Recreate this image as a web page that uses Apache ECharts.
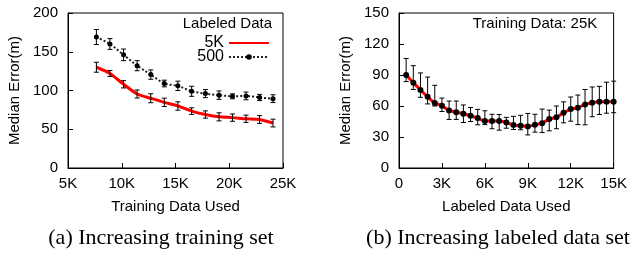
<!DOCTYPE html>
<html lang="en">
<head>
	<meta charset="UTF-8">
	<title>Median error vs training / labeled data</title>
	<style type="text/css">
		html, body { margin: 0; padding: 0; background: #fff; }
		#a { width: 630px; height: 253px; }
	</style>
</head>
<body>
	<div id="a"></div>
	<script type="text/javascript" src="https://cdn.jsdelivr.net/npm/echarts@6/dist/echarts.min.js"></script>
	<script type="text/javascript">
		// (a) training data used (K) vs median error
		var trainX = [7.64, 8.9, 10.17, 11.43, 12.7, 13.96, 15.22, 16.5, 17.78, 19.05, 20.3, 21.56, 22.82, 24.07];
		var err5K = [130, 122, 108, 95.5, 90, 84.7, 80, 73.4, 69, 66, 65, 63.5, 62.6, 58];
		var bar5K = [6.4, 3.9, 4.7, 5.2, 5.8, 5.4, 5.4, 4.3, 4.7, 5.2, 4.7, 4.7, 5, 5];
		var err500 = [169, 160, 146, 132, 120.5, 109, 106, 99, 96, 94, 92.5, 93, 91, 89.5];
		var bar500 = [9.7, 6.9, 7.5, 6.5, 6, 4.3, 6, 6.5, 5.2, 5.4, 3.2, 5, 4, 5];

		// (b) labeled data used (K) vs median error, training data 25K
		var labX = [0.5, 1, 1.5, 2, 2.5, 3, 3.5, 4, 4.5, 5, 5.5, 6, 6.5, 7, 7.5, 8, 8.5, 9, 9.5, 10,
			10.5, 11, 11.5, 12, 12.5, 13, 13.5, 14, 14.5, 15];
		var labErr = [90, 82.6, 75.5, 69, 62.8, 60.3, 55.7, 54, 52.5, 50.5, 48.3, 45.4, 45.4, 45.4, 44, 41.5,
			41, 40.2, 41.8, 43.4, 47.3, 49, 53.4, 57, 58.3, 61.5, 63.2, 64, 64, 64];
		var labHigh = [106, 99, 92, 88, 80, 67.7, 64.8, 64.8, 61, 58.6, 56.7, 55.4, 52, 51.8, 49, 50,
			51, 52.8, 52, 57, 56, 60, 64, 68.7, 70.6, 76, 78.4, 79, 83, 84];
		var labLow = [83.6, 76, 68.4, 62, 60, 54.7, 47, 47, 44, 45, 41.8, 42, 38, 36.6, 38.5, 37.3,
			37, 32, 34.7, 34.3, 36, 38, 43.7, 45.3, 42, 41.8, 49.6, 51.8, 53, 53.5];

		var xTicksA = { min: 5, max: 25, interval: 5 };
		var xTicksB = { min: 0, max: 15, interval: 3 };
		var yTicksA = { min: 0, max: 200, interval: 50 };
		var yTicksB = { min: 0, max: 150, interval: 30 };

		var font = 'Liberation Sans, Arial, sans-serif';
		var serif = 'Liberation Serif, Times New Roman, serif';

		function pairs(xs, ys) {
			return xs.map(function (x, i) { return [x, ys[i]]; });
		}
		function bars(xs, lo, hi) {
			return xs.map(function (x, i) { return [x, lo[i], hi[i]]; });
		}
		function symBars(xs, ys, e) {
			return xs.map(function (x, i) { return [x, ys[i] - e[i], ys[i] + e[i]]; });
		}

		// vertical error bar with small caps
		function renderBar(params, api) {
			var x = api.value(0);
			var p1 = api.coord([x, api.value(1)]);
			var p2 = api.coord([x, api.value(2)]);
			var w = 2.5;
			var st = { stroke: '#000', lineWidth: 1 };
			return {
				type: 'group',
				children: [
					{ type: 'line', shape: { x1: p1[0], y1: p1[1], x2: p2[0], y2: p2[1] }, style: st },
					{ type: 'line', shape: { x1: p1[0] - w, y1: p1[1], x2: p1[0] + w, y2: p1[1] }, style: st },
					{ type: 'line', shape: { x1: p2[0] - w, y1: p2[1], x2: p2[0] + w, y2: p2[1] }, style: st }
				]
			};
		}

		function kLabel(v) {
			return v === 0 ? '0' : v + 'K';
		}

		function xAxis(idx, t, name) {
			return {
				gridIndex: idx, type: 'value', min: t.min, max: t.max, interval: t.interval,
				name: name, nameLocation: 'middle', nameGap: 31,
				nameTextStyle: { fontFamily: font, fontSize: 15, color: '#000' },
				axisLine: { lineStyle: { color: '#000', width: 1 } },
				axisTick: { inside: true, length: 5, lineStyle: { color: '#000' } },
				axisLabel: { formatter: kLabel, fontFamily: font, fontSize: 15, color: '#000', margin: 8 },
				splitLine: { show: false }
			};
		}
		function yAxis(idx, t) {
			return {
				gridIndex: idx, type: 'value', min: t.min, max: t.max, interval: t.interval,
				name: 'Median Error(m)', nameLocation: 'middle', nameGap: 46, nameRotate: 90,
				nameTextStyle: { fontFamily: font, fontSize: 15, color: '#000' },
				axisLine: { lineStyle: { color: '#000', width: 1 } },
				axisTick: { inside: true, length: 5, lineStyle: { color: '#000' } },
				axisLabel: { fontFamily: font, fontSize: 15, color: '#000', margin: 10 },
				splitLine: { show: false }
			};
		}

		var myChart = echarts.init(document.getElementById('a'), null, { renderer: 'canvas' });

		var option = {
			animation: false,
			backgroundColor: '#fff',
			grid: [
				{ left: 68, top: 13, width: 215, height: 155, show: true, borderColor: '#000', borderWidth: 1 },
				{ left: 399, top: 13, width: 217, height: 155, show: true, borderColor: '#000', borderWidth: 1 }
			],
			xAxis: [
				xAxis(0, xTicksA, 'Training Data Used'),
				xAxis(1, xTicksB, 'Labeled Data Used')
			],
			yAxis: [yAxis(0, yTicksA), yAxis(1, yTicksB)],
			legend: {
				data: [
					{ name: '5K', itemStyle: { opacity: 0 } },
					{ name: '500' }
				],
				orient: 'vertical',
				align: 'right',
				right: 355,
				top: 30,
				itemWidth: 40,
				itemHeight: 7,
				itemGap: -2,
				textStyle: { fontFamily: font, fontSize: 16, lineHeight: 15, color: '#000' }
			},
			graphic: [
				{ type: 'text', x: 272, y: 24, style: { text: 'Labeled Data', font: '15px ' + font, fill: '#000', align: 'right', verticalAlign: 'middle' } },
				{ type: 'text', x: 535, y: 24, style: { text: 'Training Data: 25K', font: '15px ' + font, fill: '#000', align: 'center', verticalAlign: 'middle' } },
				{ type: 'text', x: 161, y: 238, style: { text: '(a) Increasing training set', font: '22px ' + serif, fill: '#000', align: 'center', verticalAlign: 'middle' } },
				{ type: 'text', x: 498, y: 238, style: { text: '(b) Increasing labeled data set', font: '22px ' + serif, fill: '#000', align: 'center', verticalAlign: 'middle' } }
			],
			series: [
				{
					name: '5K', type: 'line', xAxisIndex: 0, yAxisIndex: 0,
					data: pairs(trainX, err5K), smooth: 0.25, symbol: 'none',
					lineStyle: { color: '#ff0000', width: 3 }, itemStyle: { color: '#ff0000' }, z: 2
				},
				{
					name: '500', type: 'line', xAxisIndex: 0, yAxisIndex: 0,
					data: pairs(trainX, err500), smooth: 0.25, symbol: 'circle', symbolSize: 5,
					lineStyle: { color: '#222', width: 2, type: 'dotted' }, itemStyle: { color: '#000' }, z: 2
				},
				{
					type: 'custom', xAxisIndex: 0, yAxisIndex: 0, renderItem: renderBar,
					data: symBars(trainX, err5K, bar5K), z: 3, silent: true
				},
				{
					type: 'custom', xAxisIndex: 0, yAxisIndex: 0, renderItem: renderBar,
					data: symBars(trainX, err500, bar500), z: 3, silent: true
				},
				{
					name: 'labeled', type: 'line', xAxisIndex: 1, yAxisIndex: 1,
					data: pairs(labX, labErr), smooth: 0.25, symbol: 'circle', symbolSize: 6,
					lineStyle: { color: '#ff0000', width: 3 }, itemStyle: { color: '#000' }, z: 2
				},
				{
					type: 'custom', xAxisIndex: 1, yAxisIndex: 1, renderItem: renderBar,
					data: bars(labX, labLow, labHigh), z: 3, silent: true
				}
			]
		};

		myChart.setOption(option);
	</script>
</body>
</html>
